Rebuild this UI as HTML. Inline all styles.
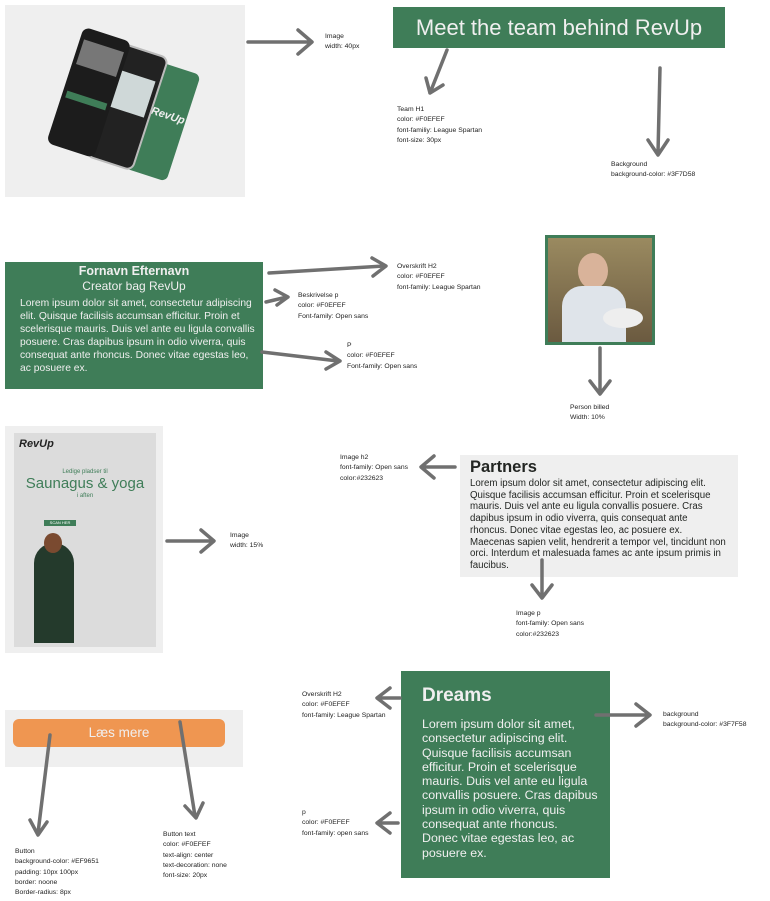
<!DOCTYPE html>
<html><head><meta charset="utf-8"><style>
body{margin:0;width:770px;height:901px;position:relative;background:#fff;font-family:"Liberation Sans",sans-serif;overflow:hidden}
.a{position:absolute}
.note{position:absolute;font-size:6.8px;line-height:10.3px;color:#222}
.green{background:#3f7d58;color:#f0efef}
.nw{white-space:nowrap}
svg.arr{position:absolute;left:0;top:0}
</style></head><body>

<div class="a" style="left:5px;top:5px;width:240px;height:192px;background:#efefef">
<svg width="240" height="192">
<g transform="rotate(18 120 96)">
<rect x="140" y="48" width="44" height="112" rx="6" fill="#3f7d58"/>
<text x="148" y="100" fill="#f0efef" font-size="11" font-style="italic" font-weight="bold">RevUp</text>
<rect x="100" y="42" width="48" height="118" rx="7" fill="#222" stroke="#bbb" stroke-width="2"/>
<rect x="105" y="68" width="38" height="38" fill="#cfd8d8"/>
<rect x="58" y="38" width="50" height="122" rx="7" fill="#1c1c1c"/>
<rect x="62" y="50" width="42" height="26" fill="#777"/>
<rect x="62" y="104" width="42" height="7" fill="#3f7d58"/>
</g></svg></div>

<div class="a green" style="left:393px;top:7px;width:332px;height:41px;font-size:22px;line-height:41px;text-align:center">Meet the team behind RevUp</div>

<div class="a green" style="left:5px;top:262px;width:258px;height:127px">
<div style="text-align:center;font-weight:bold;font-size:12.5px;margin-top:2px">Fornavn Efternavn</div>
<div style="text-align:center;font-size:12px;margin-top:1px">Creator bag RevUp</div>
<div class="nw" style="font-size:10.3px;line-height:12.9px;margin:5px 0 0 15px">Lorem ipsum dolor sit amet, consectetur adipiscing<br>elit. Quisque facilisis accumsan efficitur. Proin et<br>scelerisque mauris. Duis vel ante eu ligula convallis<br>posuere. Cras dapibus ipsum in odio viverra, quis<br>consequat ante rhoncus. Donec vitae egestas leo,<br>ac posuere ex.</div>
</div>

<div class="a" style="left:545px;top:235px;width:104px;height:104px;border:3px solid #3f7d58;background:#8a7a55;overflow:hidden">
<div class="a" style="left:0;top:0;width:104px;height:104px;background:linear-gradient(#9a8a60,#6b5a40)"></div>
<div class="a" style="left:30px;top:15px;width:30px;height:36px;border-radius:50%;background:#d9b39a"></div>
<div class="a" style="left:14px;top:48px;width:64px;height:56px;border-radius:20px 20px 0 0;background:#dfe4ea"></div>
<div class="a" style="left:55px;top:70px;width:40px;height:20px;border-radius:50%;background:#eee"></div>
</div>

<div class="a" style="left:5px;top:426px;width:158px;height:227px;background:#efefef">
<div class="a" style="left:9px;top:7px;width:142px;height:214px;background:#dcdcdc">
<div class="a" style="left:5px;top:5px;font-size:11px;font-weight:bold;font-style:italic;color:#222">RevUp</div>
<div class="a" style="left:0;width:142px;top:36px;text-align:center;color:#3f7d58;font-size:6px">Ledige pladser til</div>
<div class="a" style="left:0;width:142px;top:42px;text-align:center;color:#3f7d58;font-size:15px">Saunagus &amp; yoga</div>
<div class="a" style="left:0;width:142px;top:60px;text-align:center;color:#3f7d58;font-size:6px">i aften</div>
<div class="a" style="left:30px;top:87px;width:32px;height:6px;background:#3f7d58;color:#fff;font-size:4px;text-align:center">SCAN HER</div>
<div class="a" style="left:20px;top:110px;width:40px;height:100px;border-radius:20px 20px 0 0;background:#243a2c"></div>
<div class="a" style="left:30px;top:100px;width:18px;height:20px;border-radius:50%;background:#7a4a30"></div>
</div></div>

<div class="a" style="left:460px;top:455px;width:278px;height:122px;background:#efefef;color:#232623">
<div style="font-weight:bold;font-size:16.5px;margin:3px 0 0 10px">Partners</div>
<div class="nw" style="font-size:9.7px;line-height:11.7px;margin:1px 0 0 10px">Lorem ipsum dolor sit amet, consectetur adipiscing elit.<br>Quisque facilisis accumsan efficitur. Proin et scelerisque<br>mauris. Duis vel ante eu ligula convallis posuere. Cras<br>dapibus ipsum in odio viverra, quis consequat ante<br>rhoncus. Donec vitae egestas leo, ac posuere ex.<br>Maecenas sapien velit, hendrerit a tempor vel, tincidunt non<br>orci. Interdum et malesuada fames ac ante ipsum primis in<br>faucibus.</div>
</div>

<div class="a" style="left:5px;top:710px;width:238px;height:57px;background:#efefef">
<div class="a" style="left:8px;top:9px;width:212px;height:28px;background:#ef9651;border-radius:6px;color:#f0efef;font-size:13.5px;line-height:28px;text-align:center">Læs mere</div>
</div>

<div class="a green" style="left:401px;top:671px;width:209px;height:207px">
<div style="font-weight:bold;font-size:19px;margin:14px 0 0 21px">Dreams</div>
<div class="nw" style="font-size:12.4px;line-height:14.3px;margin:10px 0 0 21px">Lorem ipsum dolor sit amet,<br>consectetur adipiscing elit.<br>Quisque facilisis accumsan<br>efficitur. Proin et scelerisque<br>mauris. Duis vel ante eu ligula<br>convallis posuere. Cras dapibus<br>ipsum in odio viverra, quis<br>consequat ante rhoncus.<br>Donec vitae egestas leo, ac<br>posuere ex.</div>
</div>

<svg class="arr" width="770" height="901" fill="none" stroke="#707070" stroke-width="3.5" stroke-linecap="round" stroke-linejoin="round">
<path d="M248 42H310M298 30L312 42L298 54"/>
<path d="M447 50L430 93M426 78L430 93L443 85"/>
<path d="M660 68L658 153M648 140L658 155L668 140"/>
<path d="M269 273L384 266M372 258L386 266L373 276"/>
<path d="M266 302L287 297M275 290L288 297L277 305"/>
<path d="M262 352L338 361M326 352L340 361L326 369"/>
<path d="M600 348V393M590 381L600 394L610 381"/>
<path d="M167 541H213M201 530L214 541L201 552"/>
<path d="M455 467H422M434 456L421 467L434 478"/>
<path d="M542 560V597M532 585L542 598L552 585"/>
<path d="M50 735L38 833M30 820L38 835L47 822"/>
<path d="M180 722L195 816M185 806L196 818L203 803"/>
<path d="M400 698H378M390 688L377 698L390 708"/>
<path d="M398 823H378M390 813L377 823L390 833"/>
<path d="M596 715H648M636 704L650 715L636 726"/>
</svg>

<div class="note" style="left:325px;top:32px">Image<br>width: 40px</div>
<div class="note" style="left:397px;top:105px">Team H1<br>color: #F0EFEF<br>font-familiy: League Spartan<br>font-size: 30px</div>
<div class="note" style="left:611px;top:160px">Background<br>background-color: #3F7D58</div>
<div class="note" style="left:397px;top:262px">Overskrift H2<br>color: #F0EFEF<br>font-family: League Spartan</div>
<div class="note" style="left:298px;top:291px">Beskrivelse p<br>color: #F0EFEF<br>Font-family: Open sans</div>
<div class="note" style="left:347px;top:341px">P<br>color: #F0EFEF<br>Font-family: Open sans</div>
<div class="note" style="left:570px;top:403px">Person billed<br>Width: 10%</div>
<div class="note" style="left:230px;top:531px">Image<br>width: 15%</div>
<div class="note" style="left:340px;top:453px">Image h2<br>font-family: Open sans<br>color:#232623</div>
<div class="note" style="left:516px;top:609px">Image p<br>font-family: Open sans<br>color:#232623</div>
<div class="note" style="left:15px;top:847px">Button<br>background-color: #EF9651<br>padding: 10px 100px<br>border: noone<br>Border-radius: 8px</div>
<div class="note" style="left:163px;top:830px">Button text<br>color: #F0EFEF<br>text-align: center<br>text-decoration: none<br>font-size: 20px</div>
<div class="note" style="left:302px;top:690px">Overskrift H2<br>color: #F0EFEF<br>font-family: League Spartan</div>
<div class="note" style="left:302px;top:808px">p<br>color: #F0EFEF<br>font-family: open sans</div>
<div class="note" style="left:663px;top:710px">background<br>background-color: #3F7F58</div>
</body></html>
